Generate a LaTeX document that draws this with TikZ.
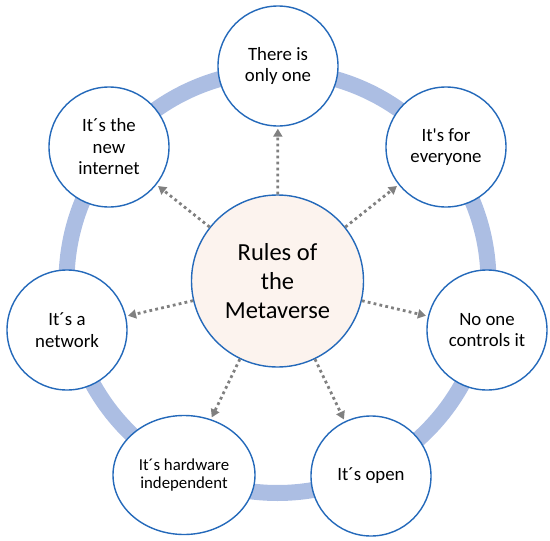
\documentclass[tikz,border=0pt]{standalone}
\usepackage{fontspec}
\setmainfont{Carlito}[Ligatures=TeXOff]
\usetikzlibrary{shapes.geometric, arrows.meta}

\definecolor{ringblue}{RGB}{172,190,227}
\definecolor{edgeblue}{RGB}{36,105,186}
\definecolor{coreskin}{RGB}{252,243,238}
\definecolor{dotgray}{RGB}{128,128,128}

\begin{document}
\begin{tikzpicture}[
    x=1pt, y=-1pt,
    every node/.style={align=center},
    rule/.style={circle, minimum size=120pt, inner sep=0pt, text centered, draw=edgeblue, line width=1.4pt, fill=white, font=\fontsize{18.8}{21.5}\selectfont},
    core/.style={circle, minimum size=172pt, inner sep=0pt, text centered, draw=edgeblue, line width=1.4pt, fill=coreskin, font=\fontsize{24.5}{29}\selectfont},
    arrow/.style={-{Triangle[length=8pt, width=9pt]}, dotgray, line width=2.8pt, dash pattern=on 2.8pt off 3.2pt, shorten >=2pt}
]
\useasboundingbox (0,0) rectangle (550,541);

% Ring
\draw[ringblue, line width=16pt] (277.5,282) circle[radius=211];

% Center
\node[core] (rules) at (277.5,281) {Rules of\\the\\Metaverse};

% Seven rules
\node[rule] (one) at (278,66) {There is\\only one};
\node[rule] (everyone) at (446,147) {It's for\\everyone};
\node[rule] (controls) at (487,330) {No one\\controls it};
\node[rule] (open) at (371,476) {It´s open};
\node[rule, ellipse, minimum width=142pt, minimum height=119pt, font=\fontsize{16.8}{18.5}\selectfont] (hardware) at (184,475) {It´s hardware\\independent};
\node[rule] (network) at (67,330) {It´s a\\network};
\node[rule] (internet) at (109,147) {It´s the\\new\\internet};

% Arrows
\draw[arrow] (rules) -- (one);
\draw[arrow] (rules) -- (everyone);
\draw[arrow] (rules) -- (controls);
\draw[arrow] (rules) -- (open);
\draw[arrow] (rules) -- (hardware);
\draw[arrow] (rules) -- (network);
\draw[arrow] (rules) -- (internet);

\end{tikzpicture}
\end{document}
